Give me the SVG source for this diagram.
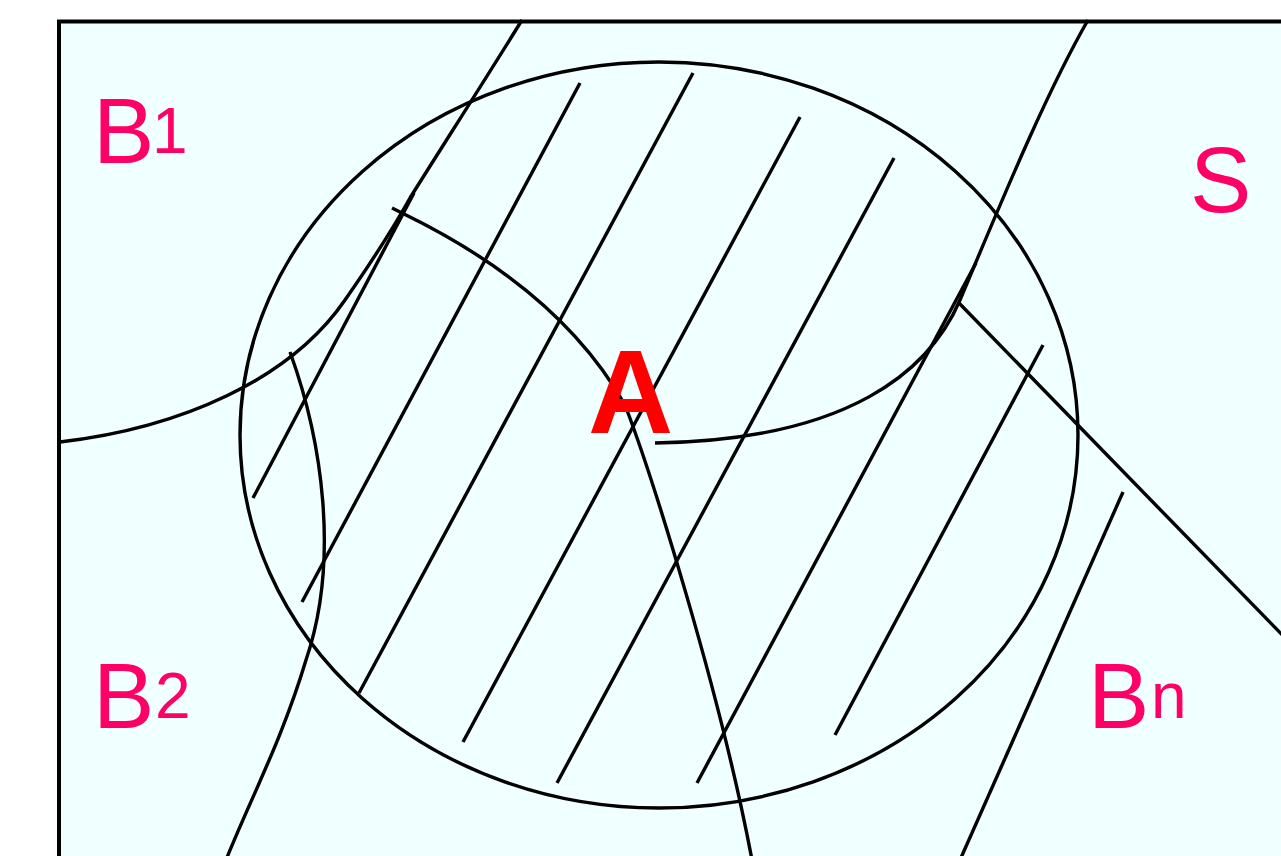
<svg xmlns="http://www.w3.org/2000/svg" width="1281" height="856" viewBox="0 0 1281 856">
  <style>
    .ln { fill: none; stroke: #000; stroke-width: 3.4; stroke-linecap: butt; stroke-linejoin: round; }
    .lbl { font-family: "Liberation Sans", Arial, sans-serif; fill: #FF0066; }
    .big { font-size: 92px; }
    .sub { font-size: 64px; }
  </style>
  <rect width="1281" height="856" fill="#ffffff"/>
  <g id="space-S">
    <rect x="59" y="21.5" width="1260" height="880" fill="#F0FFFF" stroke="#000" stroke-width="4"/>
  </g>
  <g id="event-A-ellipse">
    <ellipse cx="659" cy="435" rx="419" ry="373" class="ln"/>
  </g>
  <g id="connectors">
    <!-- partition boundaries -->
    <path class="ln" d="M60,442 C 180,428 290,380 345,300 C 375,257 395,225 410,198 C 440,150 490,72 522,20"/>
    <path class="ln" d="M392,208 L404,214 Q 560,290 625,405 C 650,470 720,690 752,860"/>
    <path class="ln" d="M290,352 C 322,440 340,560 306,660 C 282,740 250,800 226,860"/>
    <path class="ln" d="M1088,20 C 1045,95 1000,205 960,300 C 930,370 850,440 655,443"/>
    <path class="ln" d="M958,302 L1295,648"/>
    <!-- hatching -->
    <line class="ln" x1="414" y1="193" x2="253" y2="498"/>
    <line class="ln" x1="580" y1="83" x2="302" y2="602"/>
    <line class="ln" x1="693" y1="73" x2="359" y2="693"/>
    <line class="ln" x1="800" y1="117" x2="463" y2="742"/>
    <line class="ln" x1="894" y1="158" x2="557" y2="783"/>
    <line class="ln" x1="976" y1="263" x2="697" y2="783"/>
    <line class="ln" x1="1043" y1="345" x2="835" y2="735"/>
    <line class="ln" x1="1123" y1="492" x2="960" y2="860"/>
  </g>
  <g id="label-A">
    <text x="588" y="433" font-family="Liberation Sans, Arial, sans-serif" font-weight="bold" font-size="118" fill="#FF0000">A</text>
  </g>
  <g id="label-B1">
    <text class="lbl" y="163"><tspan class="big" x="93">B</tspan><tspan class="sub" x="152" y="153">1</tspan></text>
  </g>
  <g id="label-B2">
    <text class="lbl" y="728"><tspan class="big" x="93">B</tspan><tspan class="sub" x="155" y="718">2</tspan></text>
  </g>
  <g id="label-Bn">
    <text class="lbl" y="728"><tspan class="big" x="1088">B</tspan><tspan class="sub" x="1151" y="718">n</tspan></text>
  </g>
  <g id="label-S">
    <text class="lbl big" x="1190" y="212">S</text>
  </g>
</svg>
